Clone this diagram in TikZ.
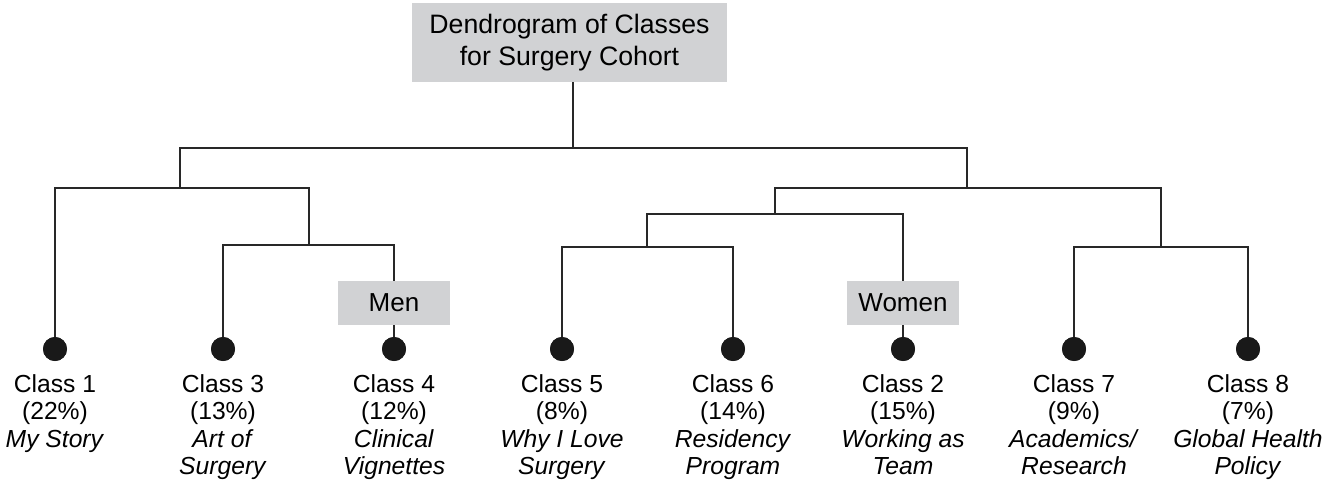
\documentclass[tikz,border=0pt]{standalone}
\usepackage{fontspec}
\setmainfont{Liberation Sans}
\usetikzlibrary{positioning}
\definecolor{boxgray}{RGB}{209,210,212}
\definecolor{linegray}{RGB}{40,40,40}
\tikzset{
	grpbox/.style={fill=boxgray, inner sep=0pt, font=\fontsize{19.5}{23}\selectfont},
	dot/.style={circle, fill=black!90, inner sep=0pt, minimum size=18pt},
	leaf/.style={anchor=north, inner sep=0pt, align=center, font=\fontsize{18.5}{20.6}\selectfont},
	link/.style={draw=linegray, line width=1.3pt}
}
\begin{document}
\begin{tikzpicture}[x=0.75pt, y=-0.75pt]
	\useasboundingbox (0,0) rectangle (1326,485);

	\node[grpbox, align=center, minimum width=236pt, minimum height=59pt, font=\fontsize{20}{23.5}\selectfont] (title) at (569.5,42.5) {Dendrogram of Classes\\for Surgery Cohort};
	\node[grpbox, minimum width=84pt, minimum height=33pt] (men) at (394,303) {Men};
	\node[grpbox, minimum width=84pt, minimum height=33pt] (women) at (903,303) {Women};

	% liscie
	\foreach \nm/\x/\txt in {c1/55/{Class 1\\(22\%)\\\textit{My Story}},
	                          c3/223/{Class 3\\(13\%)\\\textit{Art of}\\\textit{Surgery}},
	                          c4/394/{Class 4\\(12\%)\\\textit{Clinical}\\\textit{Vignettes}},
	                          c5/562/{Class 5\\(8\%)\\\textit{Why I Love}\\\textit{Surgery}},
	                          c6/733/{Class 6\\(14\%)\\\textit{Residency}\\\textit{Program}},
	                          c2/903/{Class 2\\(15\%)\\\textit{Working as}\\\textit{Team}},
	                          c7/1074/{Class 7\\(9\%)\\\textit{Academics/}\\\textit{Research}},
	                          c8/1248/{Class 8\\(7\%)\\\textit{Global Health}\\\textit{Policy}}} {
	    \node[dot] (\nm) at (\x,349) {};
	    \node[leaf] (\nm lbl) at (\x,374) {\txt};
	}

	% wezly
	\coordinate (root) at (573,148);
	\coordinate (a) at (180,188);
	\coordinate (b) at (309,245);
	\coordinate (c) at (967,188);
	\coordinate (d) at (775,214);
	\coordinate (e) at (647,247);
	\coordinate (f) at (1161,247);

	\draw[link] (title.south -| root) -- (root);
	\draw[link] (a) |- (root) -| (c);
	\draw[link] (c1) |- (a) -| (b);
	\draw[link] (c3) |- (b) -| (men.north);
	\draw[link] (men) -- (c4);
	\draw[link] (d) |- (c) -| (f);
	\draw[link] (e) |- (d) -| (women.north);
	\draw[link] (women) -- (c2);
	\draw[link] (c5) |- (e) -| (c6);
	\draw[link] (c7) |- (f) -| (c8);

	% kropki na wierzch
	\foreach \nm in {c1,c3,c4,c5,c6,c2,c7,c8}
	    \fill[black!90] (\nm) circle (9pt);
\end{tikzpicture}
\end{document}
